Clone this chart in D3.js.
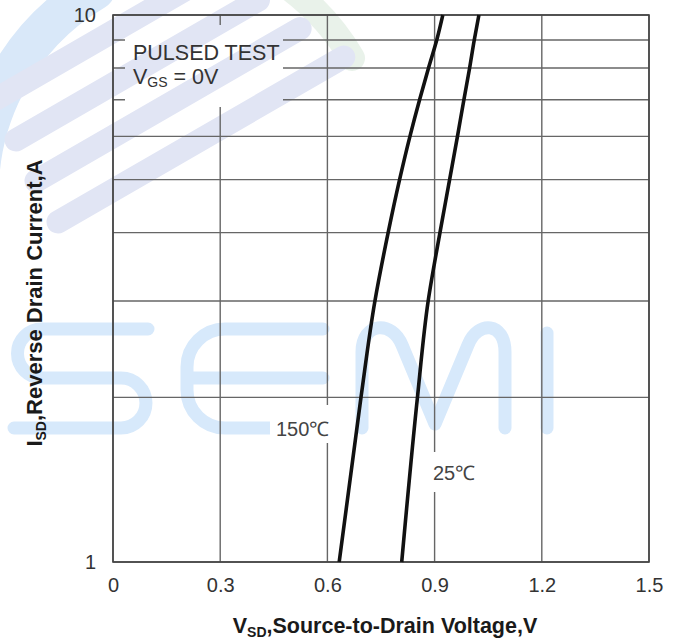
<!DOCTYPE html>
<html>
<head>
<meta charset="utf-8">
<script src="https://cdn.jsdelivr.net/npm/d3@7"></script>
<style>
  body { margin: 0; background: #fff; }
  svg { display: block; font-family: "Liberation Sans", Arial, sans-serif; }
</style>
</head>
<body>
<div id="viz"></div>
<script>
// current levels on the log axis, A
var currents = [1, 2, 3, 4, 5, 6, 7, 8, 9, 10];
// V_SD for each current
var vsd150 = [0.633, 0.694, 0.733, 0.770, 0.802, 0.831, 0.858, 0.883, 0.906, 0.923];
var vsd25  = [0.808, 0.852, 0.882, 0.915, 0.942, 0.964, 0.982, 0.998, 1.011, 1.024];
var xTicks = [0, 0.3, 0.6, 0.9, 1.2, 1.5];
var yTicks = [1, 10];
var yGrid = [1, 2, 3, 4, 5, 6, 7, 8, 9, 10];

var W = 681, H = 640;
var x = d3.scaleLinear().domain([0, 1.5]).range([113, 649]);
var y = d3.scaleLog().domain([1, 10]).range([562, 15]);

var svg = d3.select("#viz").append("svg")
  .attr("width", W)
  .attr("height", H);

// watermark (logo stripes + SEMI), sits under everything
var wm = svg.append("g").attr("fill", "none").attr("stroke-linecap", "round");
wm.append("path")
  .attr("d", "M-20,215 A235,235 0 0 1 95,-10")
  .attr("stroke", "#d9e8f9").attr("stroke-width", 40);
wm.append("path")
  .attr("d", "M292,-10 A235,235 0 0 1 352,58")
  .attr("stroke", "#e9f2ea").attr("stroke-width", 26);
var stripeStarts = [[58, 222], [36, 181], [16, 140], [-4, 99]];
stripeStarts.forEach(function (p, i) {
  var len = 330 - i * 25;
  wm.append("line")
    .attr("x1", p[0]).attr("y1", p[1])
    .attr("x2", p[0] + 0.866 * len).attr("y2", p[1] - 0.5 * len)
    .attr("stroke", "#e1e5f4").attr("stroke-width", 23);
});
var semi = [
  "M148,329 H42 A24.5,24.5 0 0 0 42,378 H121 A25,25 0 0 1 121,428 H14",
  "M323,329 H225 A38,38 0 0 0 187,367 V390 A38,38 0 0 0 225,428 H323 M187,378 H323",
  "M362,428 V352 C362,322 392,320 402,345 L435,424 L468,345 C478,320 505,322 505,352 V428",
  "M547,333 V428"
];
semi.forEach(function (d) {
  wm.append("path").attr("d", d)
    .attr("stroke", "#d7e9fb").attr("stroke-width", 13)
    .attr("stroke-linejoin", "round");
});

// white boxes behind the curve labels
svg.append("rect").attr("x", 270).attr("y", 405).attr("width", 67).attr("height", 38).attr("fill", "#fff");
svg.append("rect").attr("x", 428).attr("y", 452).attr("width", 56).attr("height", 40).attr("fill", "#fff");

// gaps in the grid where the texts sit
var mask = svg.append("defs").append("mask").attr("id", "gridMask");
mask.append("rect").attr("width", W).attr("height", H).attr("fill", "#fff");
mask.append("rect").attr("x", 125).attr("y", 25).attr("width", 158).attr("height", 82).attr("fill", "#000");
mask.append("rect").attr("x", 270).attr("y", 405).attr("width", 67).attr("height", 38).attr("fill", "#000");
mask.append("rect").attr("x", 428).attr("y", 452).attr("width", 56).attr("height", 40).attr("fill", "#000");

var grid = svg.append("g").attr("mask", "url(#gridMask)")
  .attr("stroke", "#666").attr("stroke-width", 1.4);
grid.selectAll(".vg").data(xTicks).enter().append("line")
  .attr("x1", function (d) { return x(d); }).attr("x2", function (d) { return x(d); })
  .attr("y1", y(10)).attr("y2", y(1));
grid.selectAll(".hg").data(yGrid).enter().append("line")
  .attr("x1", x(0)).attr("x2", x(1.5))
  .attr("y1", function (d) { return y(d); }).attr("y2", function (d) { return y(d); });

svg.append("rect")
  .attr("x", x(0)).attr("y", y(10))
  .attr("width", x(1.5) - x(0)).attr("height", y(1) - y(10))
  .attr("fill", "none").attr("stroke", "#444").attr("stroke-width", 1.6);

// curves
var line = d3.line()
  .x(function (d) { return x(d[0]); })
  .y(function (d) { return y(d[1]); })
  .curve(d3.curveMonotoneY);
[vsd150, vsd25].forEach(function (vs) {
  var pts = currents.map(function (c, i) { return [vs[i], c]; });
  svg.append("path").datum(pts)
    .attr("d", line)
    .attr("fill", "none").attr("stroke", "#111").attr("stroke-width", 3.6);
});

// axes
var xAxis = svg.append("g").attr("transform", "translate(0," + y(1) + ")")
  .call(d3.axisBottom(x).tickValues(xTicks).tickSize(0).tickPadding(16)
    .tickFormat(function (d) { return d === 0 ? "0" : d3.format(".1f")(d); }));
var yAxis = svg.append("g").attr("transform", "translate(" + x(0) + ",0)")
  .call(d3.axisLeft(y).tickValues(yTicks).tickSize(0).tickPadding(17)
    .tickFormat(d3.format("d")));
[xAxis, yAxis].forEach(function (a) {
  a.select(".domain").remove();
  a.selectAll("text").attr("font-size", 20).attr("fill", "#333")
    .attr("font-family", "Liberation Sans, Arial, sans-serif");
});

// annotations
var note = svg.append("g").attr("fill", "#333").attr("font-size", 21.5);
note.append("text").attr("x", 133).attr("y", 60).text("PULSED TEST");
var vgs = note.append("text").attr("x", 133).attr("y", 84);
vgs.append("tspan").text("V");
vgs.append("tspan").attr("font-size", 14).attr("dy", 3).text("GS");
vgs.append("tspan").attr("dy", -3).text(" = 0V");

svg.append("text").attr("x", 276).attr("y", 436).attr("font-size", 20).attr("fill", "#444").text("150℃");
svg.append("text").attr("x", 433).attr("y", 480).attr("font-size", 20).attr("fill", "#444").text("25℃");

// axis titles
var xt = svg.append("text").attr("x", 385).attr("y", 633)
  .attr("text-anchor", "middle").attr("font-size", 21.5).attr("font-weight", "bold").attr("fill", "#1a1a1a");
xt.append("tspan").text("V");
xt.append("tspan").attr("font-size", 14).attr("dy", 4).text("SD");
xt.append("tspan").attr("dy", -4).text(",Source-to-Drain Voltage,V");

var yt = svg.append("text").attr("transform", "translate(42,303) rotate(-90)")
  .attr("text-anchor", "middle").attr("font-size", 22).attr("font-weight", "bold").attr("fill", "#1a1a1a");
yt.append("tspan").text("I");
yt.append("tspan").attr("font-size", 14).attr("dy", 4).text("SD");
yt.append("tspan").attr("dy", -4).text(",Reverse Drain Current,A");
</script>
</body>
</html>
